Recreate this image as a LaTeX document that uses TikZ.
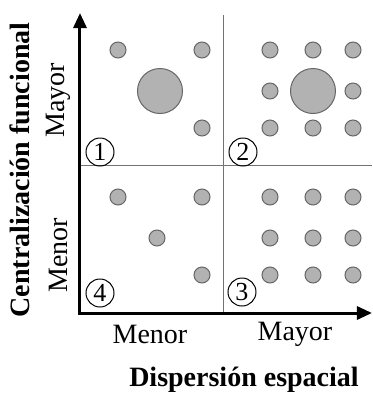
\documentclass[tikz,border=0pt]{standalone}
\usepackage{fontspec}
\setmainfont{Liberation Serif}
\usetikzlibrary{arrows.meta}
\tikzset{
  punto/.style={circle, draw=black!60, fill=black!30, line width=0.5pt, minimum size=8pt, inner sep=0pt},
  centro/.style={punto, minimum size=22.5pt},
  numero/.style={circle, draw, line width=0.5pt, minimum size=14pt, inner sep=0pt, font=\fontsize{13}{13}\selectfont},
  etiqueta/.style={font=\fontsize{14}{16}\selectfont},
  titulo/.style={font=\fontsize{14}{16}\selectfont\bfseries},
  divisor/.style={draw=black!55, line width=0.5pt},
  eje/.style={line width=1.5pt, -{Triangle[length=7.5pt, width=6.5pt]}}
}
\begin{document}
\begin{tikzpicture}[x=0.5pt, y=-0.5pt]
\useasboundingbox (0,0) rectangle (373,393);
\coordinate (O) at (80,313);
\coordinate (Y) at (80,13);
\coordinate (X) at (372,313);
\coordinate (Vs) at (224,15);
\coordinate (Vi) at (224,313);
\coordinate (Hi) at (78,165);
\coordinate (Hd) at (372,165);
\draw[divisor] (Vs) -- (Vi);
\draw[divisor] (Hi) -- (Hd);
\draw[eje] ([yshift=-0.75pt]O) -- (Y);
\draw[eje] ([xshift=-0.75pt]O) -- (X);
\node[punto] (a1) at (118,50) {};
\node[punto] (a2) at (202,50) {};
\node[punto] (a3) at (202,128) {};
\node[centro] (a0) at (160,91) {};
\foreach \i/\x in {1/270,2/313,3/353}
  \foreach \j/\y in {1/50,3/128}
    \node[punto] (b\i\j) at (\x,\y) {};
\node[punto] (b12) at (270,91) {};
\node[punto] (b32) at (353,91) {};
\node[centro] (b0) at (313,91) {};
\node[punto] (d1) at (118,197) {};
\node[punto] (d2) at (202,197) {};
\node[punto] (d3) at (157,238) {};
\node[punto] (d4) at (202,275) {};
\foreach \i/\x in {1/270,2/313,3/353}
  \foreach \j/\y in {1/197,2/238,3/275}
    \node[punto] (c\i\j) at (\x,\y) {};
\node[numero] (n1) at (100,152) {1};
\node[numero] (n2) at (243,152) {2};
\node[numero] (n3) at (242,292) {3};
\node[numero] (n4) at (100,293) {4};
\node[etiqueta, rotate=90] (ymayor) at (58,100) {Mayor};
\node[etiqueta, rotate=90] (ymenor) at (58,255) {Menor};
\node[etiqueta] (xmenor) at (150,334) {Menor};
\node[etiqueta] (xmayor) at (295,334) {Mayor};
\node[titulo, rotate=90] (ytitulo) at (20,170) {Centralización funcional};
\node[titulo] (xtitulo) at (244,380) {Dispersión espacial};
\end{tikzpicture}
\end{document}
